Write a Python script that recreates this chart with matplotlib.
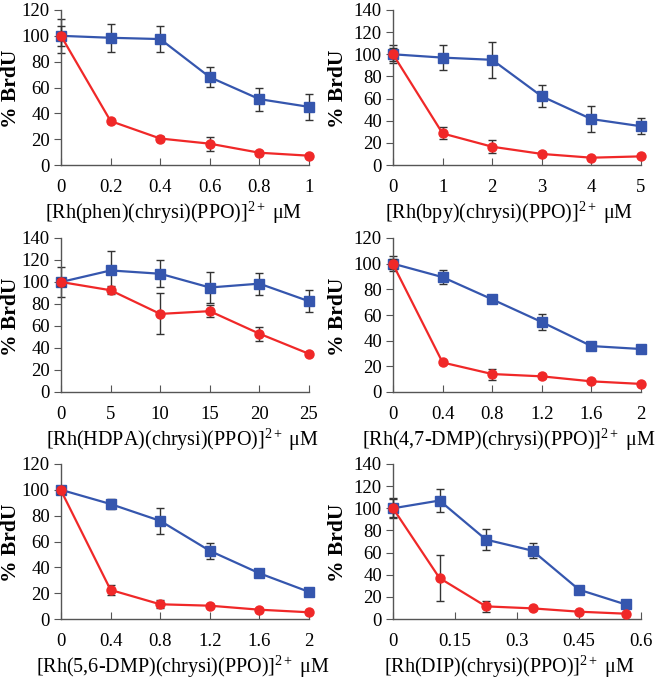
import matplotlib
matplotlib.use("Agg")
import matplotlib.pyplot as plt

plt.rcParams["font.family"] = ["Liberation Serif", "DejaVu Serif"]
plt.rcParams["mathtext.fontset"] = "custom"
plt.rcParams["mathtext.rm"] = "Liberation Serif"
plt.rcParams["mathtext.it"] = "Liberation Serif:italic"
plt.rcParams["mathtext.bf"] = "Liberation Serif:bold"

BLUE = "#3556AE"
RED = "#F02828"

# ---- data ----
labels = [
    "Rh(phen)(chrysi)(PPO)",
    "Rh(bpy)(chrysi)(PPO)",
    "Rh(HDPA)(chrysi)(PPO)",
    "Rh(4,7-DMP)(chrysi)(PPO)",
    "Rh(5,6-DMP)(chrysi)(PPO)",
    "Rh(DIP)(chrysi)(PPO)",
]

x_phen = [0, 0.2, 0.4, 0.6, 0.8, 1.0]
x_bpy = [0, 1, 2, 3, 4, 5]
x_hdpa = [0, 5, 10, 15, 20, 25]
x_47 = [0, 0.4, 0.8, 1.2, 1.6, 2.0]
x_56 = [0, 0.4, 0.8, 1.2, 1.6, 2.0]
x_dip = [0, 0.1125, 0.225, 0.3375, 0.45, 0.5625]

blue_phen = [100, 98.5, 97.5, 68, 51, 45]
blue_phen_err = [13, 11, 10, 7.5, 9, 10]
red_phen = [100, 34, 20.5, 16.5, 9.5, 7.2]
red_phen_err = [8, 1.5, 2, 5.4, 1.5, 1]

blue_bpy = [100, 97, 95, 62, 41.5, 35]
blue_bpy_err = [8, 11.5, 16.5, 10, 11.5, 7.4]
red_bpy = [100, 28.5, 16.5, 10, 6.6, 7.8]
red_bpy_err = [6, 5.4, 5.8, 1.5, 1, 1]

blue_hdpa = [100, 110.5, 107.5, 95, 98.5, 82.5]
blue_hdpa_err = [14, 17.5, 12.4, 14.4, 10, 10]
red_hdpa = [100, 92.5, 71, 73.5, 53, 34.7]
red_hdpa_err = [4, 3.8, 18.6, 5.6, 6.4, 1.5]

blue_47 = [100, 89.5, 72.2, 54.5, 35.8, 33.5]
blue_47_err = [6, 5.7, 2.5, 6.2, 3, 2.5]
red_47 = [99.5, 23, 14, 12.2, 8.3, 6.3]
red_47_err = [4, 1.5, 4.3, 1.5, 1.2, 1]

blue_56 = [100, 89, 76, 52.8, 35.4, 21]
blue_56_err = [3, 3.9, 10.3, 6.3, 1.5, 1.5]
red_56 = [99.5, 22.5, 11.4, 10.3, 7.2, 5.2]
red_56_err = [3, 3.6, 3.1, 1, 1, 1]

blue_dip = [100, 107, 71.7, 61.7, 26.5, 13.2]
blue_dip_err = [9, 10, 9.6, 6.8, 2, 1.5]
red_dip = [100, 37, 11.4, 9.6, 6.6, 4.8]
red_dip_err = [8, 20.8, 5.1, 1, 1, 1]

panels = [
    (x_phen, blue_phen, blue_phen_err, red_phen, red_phen_err, [0, 0.2, 0.4, 0.6, 0.8, 1], ["0", "0.2", "0.4", "0.6", "0.8", "1"], 120),
    (x_bpy, blue_bpy, blue_bpy_err, red_bpy, red_bpy_err, [0, 1, 2, 3, 4, 5], ["0", "1", "2", "3", "4", "5"], 140),
    (x_hdpa, blue_hdpa, blue_hdpa_err, red_hdpa, red_hdpa_err, [0, 5, 10, 15, 20, 25], ["0", "5", "10", "15", "20", "25"], 140),
    (x_47, blue_47, blue_47_err, red_47, red_47_err, [0, 0.4, 0.8, 1.2, 1.6, 2], ["0", "0.4", "0.8", "1.2", "1.6", "2"], 120),
    (x_56, blue_56, blue_56_err, red_56, red_56_err, [0, 0.4, 0.8, 1.2, 1.6, 2], ["0", "0.4", "0.8", "1.2", "1.6", "2"], 120),
    (x_dip, blue_dip, blue_dip_err, red_dip, red_dip_err, [0, 0.15, 0.3, 0.45, 0.6], ["0", "0.15", "0.3", "0.45", "0.6"], 140),
]

W, H = 655, 683
fig = plt.figure(figsize=(W / 100, H / 100), dpi=100)

# axes boxes in pixels: (left, top, right, bottom)
boxes = [
    (61, 10, 309, 165),
    (393, 10, 641, 165),
    (61, 238, 309, 392),
    (393, 238, 641, 392),
    (61, 464, 309, 619),
    (393, 464, 641, 619),
]
# label centres, axes fraction
xlab_x = [0.456, 0.47, 0.488, 0.468, 0.49, 0.47]
ylab_x = [-0.2, -0.222, -0.2, -0.222, -0.2, -0.222]

for i, ((xs, b, be, r, re, xt, xtl, ymax), lab, (l, t, rr, bt)) in enumerate(zip(panels, labels, boxes)):
    ax = fig.add_axes([l / W, 1 - bt / H, (rr - l) / W, (bt - t) / H])
    ax.errorbar(xs, b, yerr=be, color=BLUE, ecolor="#333333", elinewidth=1,
                capsize=3, capthick=1, marker="s", markersize=6.5, linewidth=1.6,
                zorder=2, clip_on=False)
    ax.errorbar(xs, r, yerr=re, color=RED, ecolor="#333333", elinewidth=1,
                capsize=3, capthick=1, marker="o", markersize=6.5, linewidth=1.6,
                zorder=3, clip_on=False)
    ax.set_xlim(xt[0], xt[-1])
    ax.set_ylim(0, ymax)
    ax.set_xticks(xt)
    ax.set_xticklabels(xtl)
    ax.set_yticks(range(0, ymax + 1, 20))
    for s in ["top", "right"]:
        ax.spines[s].set_visible(False)
    for s in ["left", "bottom"]:
        ax.spines[s].set_color("#555555")
        ax.spines[s].set_linewidth(1)
    ax.tick_params(axis="x", direction="in", length=5, pad=10, labelsize=13.5, color="#555555")
    ax.tick_params(axis="y", direction="out", length=5, pad=3, labelsize=13.5, color="#555555")
    ax.set_xlabel("[" + lab + "]$^{2+}$ \u03bcM", fontsize=14.5, va="center")
    ax.xaxis.set_label_coords(xlab_x[i], -0.31)
    ax.set_ylabel("% BrdU", fontsize=15.5, fontweight="bold", va="center")
    ax.yaxis.set_label_coords(ylab_x[i], 0.49)

fig.savefig("out.png", dpi=100)
